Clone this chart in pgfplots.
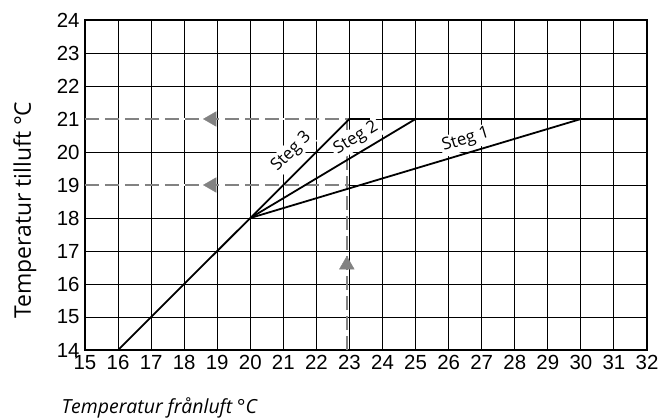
\documentclass[border=0pt]{standalone}
\usepackage{fontspec}
\setmainfont{Liberation Sans}
\newfontfamily\labfont{Open Sans}
\usepackage{pgfplots}
\pgfplotsset{compat=1.18}
\definecolor{dashgray}{RGB}{130,130,130}

\begin{document}
\begin{tikzpicture}
\begin{axis}[
    scale only axis,
    width=562bp, height=330bp,
    xmin=15, xmax=32, ymin=14, ymax=24,
    xtick={15,...,32}, ytick={14,...,24},
    grid=major,
    grid style={black, line width=0.9bp},
    axis line style={line width=2.4bp},
    major tick length=0pt,
    ticklabel style={font=\fontsize{20.5}{22}\selectfont},
    /pgf/number format/assume math mode=true,
    xticklabel style={yshift=-2bp},
    yticklabel style={xshift=-2bp},
    ylabel={Temperatur tilluft °C},
    ylabel style={font=\labfont\fontsize{23}{26}\selectfont,
        at={(axis description cs:-0.107,0.424)}, anchor=center},
    xlabel={Temperatur frånluft °C},
    xlabel style={font=\labfont\itshape\fontsize{19.5}{22}\selectfont,
        at={(axis description cs:-0.048,-0.191)}, anchor=base west},
    clip=false,
]
% masks where the grid is left out
\addplot[white, line width=2.5bp, forget plot] coordinates {(15.05,21) (23,21)};
\addplot[white, line width=2.5bp, forget plot] coordinates {(15.05,19) (23,19)};

% reading guides
\addplot[dashgray, line width=2bp, dash pattern=on 14bp off 6bp] coordinates {(15,21) (23,21)};
\addplot[dashgray, line width=2bp, dash pattern=on 14bp off 6bp] coordinates {(15,19) (23,19)};
\addplot[dashgray, line width=2bp, dash pattern=on 14bp off 6bp] coordinates {(22.92,14) (22.92,21)};

% step labels
\node[fill=white, inner sep=2bp, rotate=45, font=\labfont\fontsize{17}{19}\selectfont]
    at (axis cs:21.25,20.0) {Steg 3};
\node[fill=white, inner sep=2.5bp, rotate=31, font=\labfont\fontsize{17}{19}\selectfont]
    at (axis cs:23.2,20.42) {Steg 2};
\node[fill=white, inner sep=2bp, rotate=16.7, font=\labfont\fontsize{17}{19}\selectfont]
    at (axis cs:26.52,20.36) {Steg 1};

% characteristic lines
\addplot[black, line width=1.8bp] coordinates {(16,14) (20,18) (23,21) (23.62,21)};
\addplot[black, line width=1.8bp] coordinates {(20,18) (25,21)};
\addplot[black, line width=1.8bp] coordinates {(20,18) (30,21)};
\addplot[black, line width=1.8bp] coordinates {(23.98,21) (32,21)};

% arrow heads
\addplot[only marks, mark=triangle*, mark size=8.5bp,
    mark options={rotate=90, fill=dashgray, draw=dashgray}] coordinates {(18.84,21) (18.84,19)};
\addplot[only marks, mark=triangle*, mark size=8.5bp,
    mark options={fill=dashgray, draw=dashgray}] coordinates {(22.92,16.58)};
\end{axis}
\pgfresetboundingbox
\path (-85bp,-68bp) rectangle (575bp,350bp);
\end{tikzpicture}
\end{document}
